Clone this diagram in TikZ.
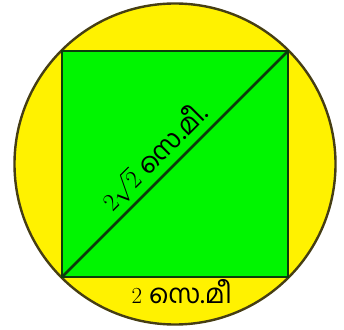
\documentclass[tikz,border=0pt]{standalone}
\usepackage{fontspec}
\newfontfamily\mlfont[Script=Malayalam,Scale=1.15]{Hind Kochi}
\usetikzlibrary{positioning,calc}
\definecolor{ringedge}{RGB}{70,62,20}
\definecolor{sqedge}{RGB}{12,60,12}
\definecolor{sqfill}{RGB}{0,245,0}
\tikzset{
  ring/.style={draw=ringedge, line width=2.4pt, fill=yellow},
  sqbox/.style={draw=sqedge, line width=2.8pt, fill=sqfill},
  diag/.style={draw=sqedge, line width=2.6pt},
  lbl/.style={font=\fontsize{23}{27}\selectfont, text=black, inner sep=2pt},
}
\begin{document}
\begin{tikzpicture}[x=1pt, y=1pt]
  \useasboundingbox (0,0) rectangle (344,329);
  \coordinate (O) at (175,165);
  \draw[ring] (O) circle[radius=160.5];
  \coordinate (A) at ($(O)+(-113,-113)$);
  \coordinate (B) at ($(O)+(113,-113)$);
  \coordinate (C) at ($(O)+(113,113)$);
  \coordinate (D) at ($(O)+(-113,113)$);
  \draw[sqbox] (A) -- (B) -- (C) -- (D) -- cycle;
  % diagonal with its length
  \draw[diag] (A) -- node[lbl, pos=0.47, above=3pt, sloped] {$2\sqrt{2}$\ {\mlfont സെ.മീ.}} (C);
  % side length
  \node[lbl, below=0pt of $(A)!0.53!(B)$] (side) {2 {\mlfont സെ.മീ}};
\end{tikzpicture}
\end{document}
